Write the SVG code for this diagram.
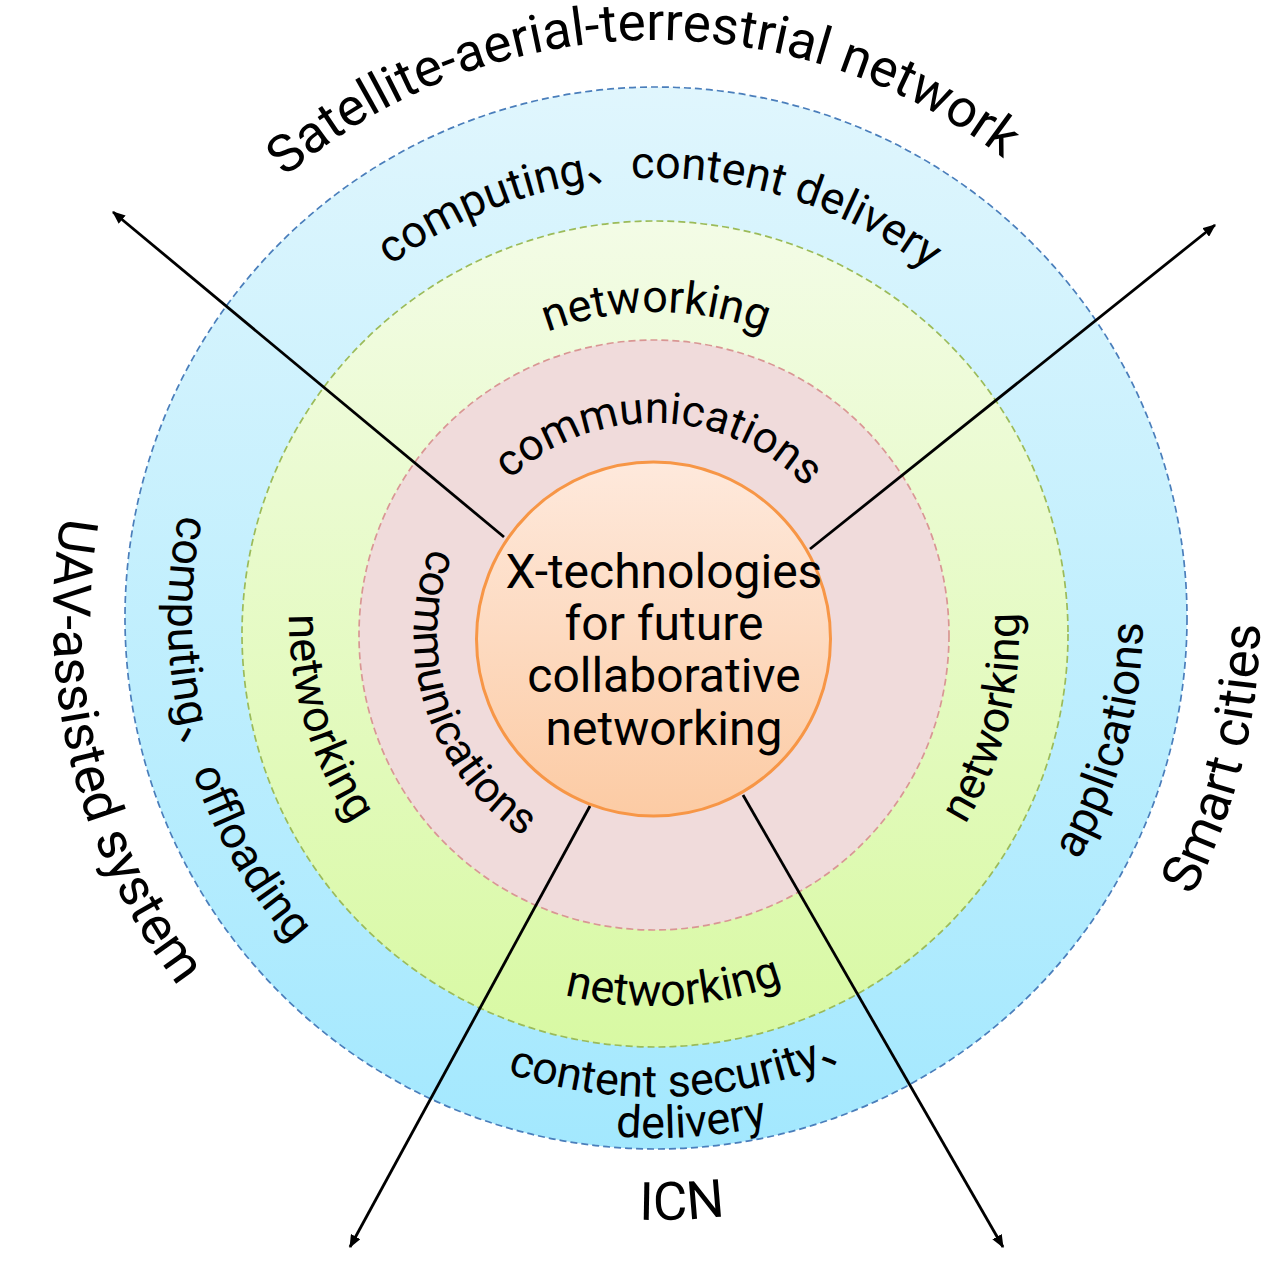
<svg xmlns="http://www.w3.org/2000/svg" width="1277" height="1261" viewBox="0 0 1277 1261">
<style>
.lbl{font-family:Roboto,"Noto Sans CJK SC",sans-serif;fill:#000}
.outer{font-size:53px}
.inner{font-size:45px}
.ring{stroke-width:1.7;stroke-dasharray:7 4}
.conn{stroke:#000;stroke-width:2.8;fill:none;marker-end:url(#ah)}
</style>
<defs>
<linearGradient id="gBlue" x1="0" y1="0" x2="0" y2="1"><stop offset="0" stop-color="#E0F6FD"/><stop offset="1" stop-color="#A3E8FE"/></linearGradient>
<linearGradient id="gGreen" x1="0" y1="0" x2="0" y2="1"><stop offset="0" stop-color="#F3FCE6"/><stop offset="1" stop-color="#D8F9A3"/></linearGradient>
<linearGradient id="gOrange" x1="0" y1="0" x2="0" y2="1"><stop offset="0" stop-color="#FEE9DC"/><stop offset="1" stop-color="#FCCBA4"/></linearGradient>
<marker id="ah" viewBox="0 0 12 10" refX="11" refY="5" markerWidth="13" markerHeight="11" markerUnits="userSpaceOnUse" orient="auto"><path d="M0,0 L12,5 L0,10 z" fill="#000"/></marker>
<path id="pSat" d="M 88.06 574.26 A 569 569 0 0 1 1221.34 544.59"/>
<path id="pComp" d="M 211.06 582.16 A 447 447 0 0 1 1101.62 589.93"/>
<path id="pNetT" d="M 351.17 591.33 A 306 306 0 0 1 960.83 591.33"/>
<path id="pComT" d="M 443.36 611.0 A 212 212 0 0 1 865.60 622.06"/>
<path id="pUAV" d="M 459.68 47.85 A 603 603 0 0 0 750.33 1213.58"/>
<path id="pOff" d="M 490.69 158.85 A 488 488 0 0 0 739.06 1098.88"/>
<path id="pNetL" d="M 519.71 277.24 A 367 367 0 0 0 731.05 977.25"/>
<path id="pComL" d="M 560.61 413.91 A 240 240 0 0 0 707.58 868.94"/>
<path id="pNetR" d="M 597.43 993.42 A 364 364 0 0 0 774.11 290.04"/>
<path id="pApp" d="M 569.76 1097.31 A 487 487 0 0 0 824.16 160.96"/>
<path id="pSmart" d="M 561.52 1214.56 A 604 604 0 0 0 852.64 46.91"/>
<path id="pNetB" d="M 286.62 685.77 A 372 372 0 0 0 1026.77 646.98"/>
<path id="pSec" d="M 182.64 691.28 A 479 479 0 0 0 1134.9 628.03"/>
<path id="pDel" d="M 142.40 699.34 A 520 520 0 0 0 1175.92 627.07"/>
<path id="pICN" d="M 59.15 696.58 A 602 602 0 0 0 1257.43 644.26"/>
</defs>
<rect width="1277" height="1261" fill="#FFFFFF"/>
<g id="ring-outer"><circle cx="656" cy="618" r="531" fill="url(#gBlue)" class="ring" stroke="#4A7EBB"/></g>
<g id="ring-middle"><circle cx="655" cy="634" r="413" fill="url(#gGreen)" class="ring" stroke="#9BBB59"/></g>
<g id="ring-inner"><circle cx="654" cy="635" r="295" fill="#F0DBDB" class="ring" stroke="#D99694"/></g>
<g id="connectors">
<line class="conn" x1="504" y1="537" x2="113" y2="212"/>
<line class="conn" x1="810" y1="549" x2="1215" y2="225"/>
<line class="conn" x1="590" y1="806" x2="350" y2="1247"/>
<line class="conn" x1="743" y1="795" x2="1003" y2="1247"/>
</g>
<g id="core">
<circle cx="653.5" cy="639" r="177" fill="url(#gOrange)" stroke="#F79646" stroke-width="3"/>
<text class="lbl" font-size="48" text-anchor="middle"><tspan x="664" y="588">X-technologies</tspan><tspan x="664" y="640">for future</tspan><tspan x="664" y="692">collaborative</tspan><tspan x="664" y="745">networking</tspan></text>
</g>
<g id="label-satellite"><text class="lbl outer" text-anchor="middle"><textPath href="#pSat" startOffset="50%">Satellite-aerial-terrestrial network</textPath></text></g>
<g id="label-uav"><text class="lbl outer" text-anchor="middle"><textPath href="#pUAV" startOffset="50%">UAV-assisted system</textPath></text></g>
<g id="label-smart"><text class="lbl outer" text-anchor="middle"><textPath href="#pSmart" startOffset="50%">Smart cities</textPath></text></g>
<g id="label-icn"><text class="lbl outer" text-anchor="middle"><textPath href="#pICN" startOffset="50%">ICN</textPath></text></g>
<g id="label-blue-top"><text class="lbl inner" text-anchor="middle"><textPath href="#pComp" startOffset="50%">computing、content delivery</textPath></text></g>
<g id="label-blue-left"><text class="lbl inner" text-anchor="middle"><textPath href="#pOff" startOffset="50%">computing、offloading</textPath></text></g>
<g id="label-blue-right"><text class="lbl" font-size="46" text-anchor="middle"><textPath href="#pApp" startOffset="50%">applications</textPath></text></g>
<g id="label-blue-bottom"><text class="lbl inner" text-anchor="middle"><textPath href="#pSec" startOffset="50%">content security、</textPath></text><text class="lbl inner" text-anchor="middle"><textPath href="#pDel" startOffset="50%">delivery</textPath></text></g>
<g id="label-green-top"><text class="lbl inner" text-anchor="middle"><textPath href="#pNetT" startOffset="50%">networking</textPath></text></g>
<g id="label-green-left"><text class="lbl inner" text-anchor="middle"><textPath href="#pNetL" startOffset="50%">networking</textPath></text></g>
<g id="label-green-right"><text class="lbl inner" text-anchor="middle"><textPath href="#pNetR" startOffset="50%">networking</textPath></text></g>
<g id="label-green-bottom"><text class="lbl inner" text-anchor="middle"><textPath href="#pNetB" startOffset="50%">networking</textPath></text></g>
<g id="label-pink-top"><text class="lbl" font-size="44" text-anchor="middle"><textPath href="#pComT" startOffset="50%">communications</textPath></text></g>
<g id="label-pink-left"><text class="lbl" font-size="44" text-anchor="middle"><textPath href="#pComL" startOffset="50%">communications</textPath></text></g>
</svg>
